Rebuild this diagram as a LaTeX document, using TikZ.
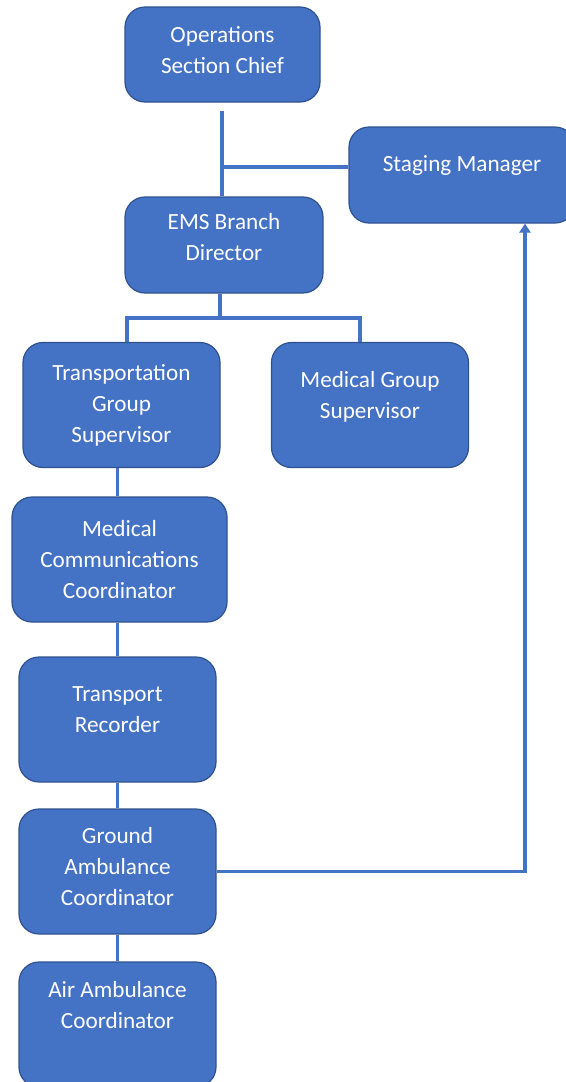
\documentclass[tikz,border=0pt]{standalone}
\usepackage{fontspec}
\setmainfont{Carlito}
\usetikzlibrary{arrows.meta}
\definecolor{boxblue}{HTML}{4472C4}
\definecolor{edgeblue}{HTML}{2F528F}
\tikzset{
	x=0.5pt, y=-0.5pt, % one unit is one pixel of the chart, y runs downwards
	org/.style={draw=edgeblue, line width=0.6pt, fill=boxblue, rounded corners=10pt, text=white, align=center, font=\fontsize{11.6}{15.5}\selectfont, minimum width=98.5pt, minimum height=62.5pt, inner sep=2pt}, % every box of the chart
	link/.style={draw=boxblue, line width=1.6pt}, % the lines between the boxes
	lift/.style={text depth=#1}, % moves the text up in its box
	tip/.style={-{Triangle[length=4.5pt,width=5.5pt]}}, % arrow head on the return line
}

\begin{document}
\begin{tikzpicture}
	\useasboundingbox (0,0) rectangle (566,1082);
			\node[org, minimum width=97.5pt, minimum height=47.5pt, lift=5pt] (ops) at (222.5,54.5) {Operations\\Section Chief};
			\node[org, minimum width=113pt, minimum height=48pt, lift=11pt] (stag) at (462,175) {Staging Manager};
			\node[org, minimum width=99pt, minimum height=48pt, lift=8pt] (ems) at (224,245) {EMS Branch\\Director};
			\node[org] (tgs) at (121.5,405) {Transportation\\Group\\Supervisor};
			\node[org, lift=10pt] (mgs) at (370,405) {Medical Group\\Supervisor};
			\node[org, minimum width=107.5pt] (mcc) at (119.5,559.5) {Medical\\Communications\\Coordinator};
			\node[org, lift=10pt] (tr) at (117.5,719.5) {Transport\\Recorder};
			\node[org, lift=5pt] (gac) at (117.5,871.5) {Ground\\Ambulance\\Coordinator};
			\node[org, lift=20pt] (aac) at (117.5,1024.5) {Air Ambulance\\Coordinator};
	% corners of the lines
	\coordinate (tee) at (222,167);
	\coordinate (busM) at (220,318);
	\coordinate (busL) at (127,318);
	\coordinate (busR) at (360,318);
	\coordinate (turn) at (525,872);
	\draw[link, shorten <=4pt] (ops.south -| tee) -- (ems.north -| tee);
	\draw[link] (tee) -- (tee -| stag.west);
	\draw[link] (ems.south -| busM) -- (busM);
	\draw[link] (busL |- tgs.north) -- (busL) -- (busR) -- (busR |- mgs.north);
	\draw[link] (tgs.south -| tr) -- (mcc.north -| tr);
	\draw[link] (mcc.south -| tr) -- (tr.north);
	\draw[link] (tr.south) -- (gac.north);
	\draw[link] (gac.south) -- (aac.north);
	\draw[link, tip] (gac.east) -| (turn |- stag.south);
\end{tikzpicture}
\end{document}
